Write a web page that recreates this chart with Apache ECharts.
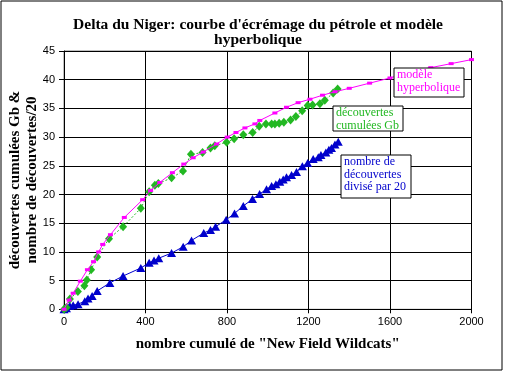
<!DOCTYPE html>
<html><head><meta charset="utf-8">
<script src="https://cdn.jsdelivr.net/npm/echarts@6/dist/echarts.min.js"></script>
<style>html,body{margin:0;padding:0;background:#fff}#c{width:516px;height:376px}</style>
</head><body><div id="c"></div>
<script>
var titleText = "Delta du Niger: courbe d'écrémage du pétrole et modèle\nhyperbolique";
var xAxisTitle = 'nombre cumulé de "New Field Wildcats"';
var yAxisTitle = "découvertes cumulées Gb &\nnombre de découvertes/20";
var xTicks = [0, 400, 800, 1200, 1600, 2000];
var yTicks = [0, 5, 10, 15, 20, 25, 30, 35, 40, 45];

var modelX = [0,25,45,80,115,145,170,190,228,296,386,425,470,532,588,634,683,749,801,844,888,937,961,1035,1092,1149,1207,1269,1330,1400,1500,1600,1700,1800,1900,2000];
var modelY = [0,1.6,2.8,4.9,6.9,8.3,10.0,11.3,13.0,16.0,19.1,20.7,22.1,23.8,25.3,26.4,27.4,28.8,30.0,30.8,31.6,32.3,32.9,34.2,35.2,36.0,36.6,37.3,37.9,38.5,39.4,40.3,41.4,42.1,42.8,43.5];

var cumX = [0,12,29,68,100,112,133,163,221,290,377,418,446,463,528,584,623,680,719,740,798,835,880,926,958,991,1019,1035,1056,1079,1112,1138,1169,1196,1220,1256,1280,1321,1343];
var cumY = [0,0.3,1.8,3.1,4.1,5.1,6.9,9.1,12.3,14.4,17.6,20.5,21.6,21.9,22.9,24.1,27.0,27.3,28.1,28.5,29.1,29.7,30.4,30.8,31.9,32.3,32.3,32.3,32.4,32.6,33.0,33.6,34.6,35.5,35.6,35.8,36.4,37.7,38.4];

var cntX = [0,12,28,45,69,102,118,138,163,225,290,377,418,442,465,528,585,626,686,719,744,796,837,880,925,960,994,1019,1040,1059,1076,1092,1117,1141,1170,1196,1223,1248,1261,1285,1300,1313,1330,1346];
var cntY = [0,0.2,0.6,0.7,0.9,1.4,1.9,2.3,3.2,4.6,5.8,7.2,8.1,8.5,8.9,9.8,10.9,12.0,13.3,13.8,14.4,15.6,16.7,18.0,19.2,20.1,20.9,21.5,21.8,22.2,22.6,23.0,23.4,23.9,24.9,25.5,26.2,26.5,26.9,27.3,27.8,28.1,28.7,29.2];

var labelModel = ["modèle", "hyperbolique"];
var labelCum = ["découvertes", "cumulées Gb"];
var labelCnt = ["nombre de", "découvertes", "divisé par 20"];

function pairs(xs, ys){ return xs.map(function(x,i){ return [x, ys[i]]; }); }

var serif = '"Liberation Serif", "DejaVu Serif", serif';
var sans = '"Liberation Sans", Arial, sans-serif';

var chart = echarts.init(document.getElementById('c'), null, {renderer:'canvas'});

function box(x, y, w, h, lines, color){
  return {
    type:'group', x:x, y:y, z:100,
    children:[
      {type:'rect', z:100, shape:{x:0,y:0,width:w,height:h}, style:{fill:'#fff', stroke:'#000', lineWidth:1}},
      {type:'text', z:101, x:3, y:1, style:{text:lines.join('\n'), font:'12px ' + serif, fill:color, lineHeight:12.5}}
    ]
  };
}

chart.setOption({
  animation:false,
  backgroundColor:'#fff',
  title:{
    text:titleText, left:'center', top:12, itemGap:0,
    textStyle:{fontFamily:serif, fontSize:15.5, fontWeight:'bold', color:'#000', lineHeight:15.5}
  },
  grid:{left:64, top:51, width:407.5, height:258.3, containLabel:false, outerBoundsMode:'none',
        show:true, borderColor:'#808080', borderWidth:1, backgroundColor:'#fff'},
  xAxis:{
    type:'value', min:0, max:2000, interval:400,
    name:xAxisTitle, nameLocation:'middle', nameGap:27,
    nameTextStyle:{fontFamily:serif, fontSize:15, fontWeight:'bold', color:'#000'},
    axisLine:{lineStyle:{color:'#000', width:1}},
    axisTick:{show:true, length:4, lineStyle:{color:'#000'}},
    axisLabel:{fontFamily:sans, fontSize:11, color:'#000', margin:7, formatter:function(v){return String(v);}},
    splitLine:{show:true, lineStyle:{color:'#000', width:1}}
  },
  yAxis:{
    type:'value', min:0, max:45, interval:5,
    axisLine:{show:true, lineStyle:{color:'#000', width:1}},
    axisTick:{show:true, length:5, lineStyle:{color:'#000'}},
    axisLabel:{fontFamily:sans, fontSize:11, color:'#000', margin:9, formatter:function(v){return String(v);}},
    splitLine:{show:true, lineStyle:{color:'#000', width:1}}
  },
  series:[
    {
      name:'nombre de découvertes divisé par 20', type:'line', data:pairs(cntX, cntY),
      symbol:'triangle', symbolSize:[9,8], showSymbol:true,
      itemStyle:{color:'#0000CC'}, lineStyle:{color:'#0000CC', width:1}, z:3
    },
    {
      name:'découvertes cumulées Gb', type:'line', data:pairs(cumX, cumY),
      symbol:'diamond', symbolSize:[8,9],
      itemStyle:{color:'#22B822'}, lineStyle:{color:'#22B822', width:1, type:[2,2]}, z:4
    },
    {
      name:'modèle hyperbolique', type:'line', data:pairs(modelX, modelY),
      symbol:'rect', symbolSize:[5,3],
      itemStyle:{color:'#FF00FF'}, lineStyle:{color:'#FF00FF', width:1}, z:5
    }
  ],
  graphic:{
    elements:[
      {type:'rect', x:1, y:1, z:-1, shape:{x:0,y:0,width:501,height:369}, style:{fill:null, stroke:'#000', lineWidth:1}},
      {type:'text', x:24, y:180, rotation:Math.PI/2, z:50,
       style:{text:yAxisTitle, font:'bold 15px ' + serif, fill:'#000', lineHeight:17, align:'center', verticalAlign:'middle'}},
      box(394, 68, 70, 29, labelModel, '#FF00FF'),
      box(333, 106, 70, 25, labelCum, '#22B822'),
      box(341, 155, 70, 43, labelCnt, '#0000CC')
    ]
  }
});
</script>
</body></html>
